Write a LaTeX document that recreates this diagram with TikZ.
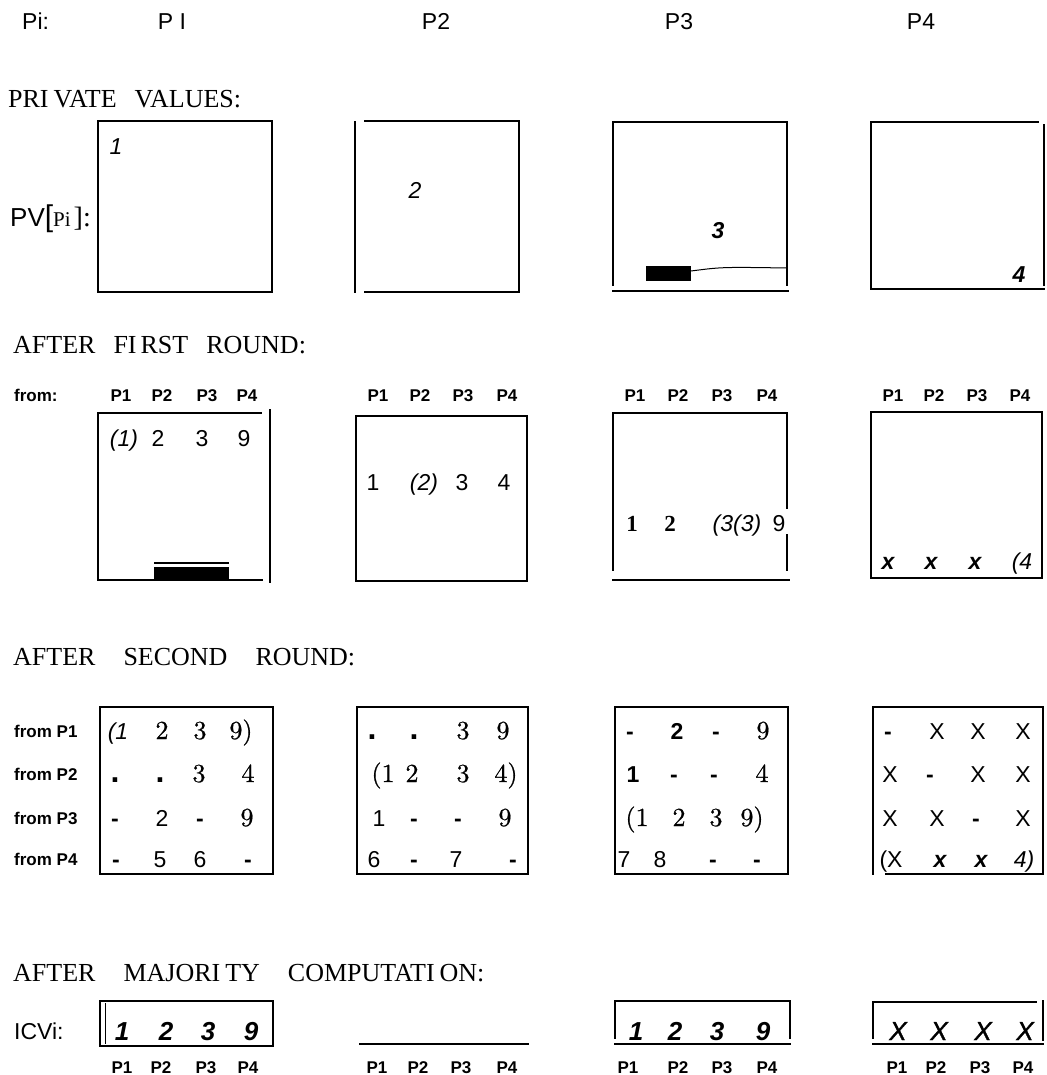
\documentclass[tikz,border=0pt]{standalone}
\usepackage{fontspec}
\usepackage{graphicx}
\newfontfamily\fsans{Liberation Sans}
\newfontfamily\fsansfb[FakeBold=1.2]{Liberation Sans}
\newfontfamily\fserif{Liberation Serif}
\newfontfamily\cmfb[FakeBold=0.7]{lmroman10-regular.otf}
\tikzset{
  boxline/.style={line width=2.5pt, line cap=rect},
  tnode/.style={inner sep=0pt, anchor=base},
  toplab/.style={tnode, font=\fsans\fontsize{23}{23}\selectfont},
  sectxt/.style={inner sep=0pt, anchor=base west, font=\fserif\fontsize{26}{26}\selectfont},
  plab/.style={tnode, font=\fsans\bfseries\fontsize{17}{17}\selectfont},
  snum/.style={tnode, font=\fsans\fontsize{23}{23}\selectfont},
  inum/.style={tnode, font=\fsans\itshape\fontsize{23}{23}\selectfont},
  bnum/.style={tnode, font=\fsans\bfseries\fontsize{23}{23}\selectfont},
  binum/.style={tnode, font=\fsans\bfseries\itshape\fontsize{26}{26}\selectfont},
  bxnum/.style={tnode, font=\fsans\bfseries\itshape\fontsize{23}{23}\selectfont},
  bsnum/.style={tnode, font=\fserif\bfseries\fontsize{23}{23}\selectfont},
  cmnum/.style={tnode, font=\cmfb\fontsize{26}{26}\selectfont},
  lowdot/.style={tnode, font=\fsans\bfseries\fontsize{32}{32}\selectfont},
  middash/.style={tnode, font=\fsans\bfseries\fontsize{23}{23}\selectfont},
  bigx/.style={tnode, font=\fsansfb\itshape\fontsize{26}{26}\selectfont},
}
\begin{document}
\begin{tikzpicture}[x=1pt,y=-1pt]
\useasboundingbox (0,0) rectangle (1046,1075);
% ---------- top row
\node[toplab, anchor=base west] (pi) at (22,30) {Pi:};
\node[toplab] (tp1) at (172,30) {P I};
\node[toplab] (tp2) at (436,30) {P2};
\node[toplab] (tp3) at (679,30) {P3};
\node[toplab] (tp4) at (921,30) {P4};
% ---------- private values
\node[sectxt] (pvsec) at (8,108) {\spaceskip=18pt\relax {\spaceskip=5pt\relax PRI VATE} VALUES:};
\node[tnode, anchor=base west] (pv) at (10,227) {{\fsans\fontsize{26}{26}\selectfont PV}{\fsans\fontsize{30}{30}\selectfont [}{\fserif\fontsize{21}{21}\selectfont Pi\hspace{3pt}}{\fserif\fontsize{28}{28}\selectfont ]:}};
\draw[boxline] (98,121) rectangle (272,292);
\node[inum] (pv1) at (116,155) {1};
\draw[boxline] (355,122) -- (355,292);
\draw[boxline] (365,121) -- (519,121) -- (519,292) -- (365,292);
\node[inum] (pv2) at (415,199) {2};
\draw[boxline] (613,285) -- (613,122) -- (787,122) -- (787,285);
\draw[boxline] (613,291) -- (788,291);
\fill (646,266) rectangle (691,281);
\draw[line width=1pt] (691,271) .. controls (722,267) .. (787,268);
\node[bxnum] (pv3) at (718,238) {3};
\draw[boxline] (1038,122) -- (871,122) -- (871,289) -- (1044,289);
\draw[boxline] (1044,125) -- (1044,285);
\node[bxnum] (pv4) at (1019,282) {4};
% ---------- after first round
\node[sectxt] (r1sec) at (13,353) {\spaceskip=18pt\relax AFTER {\spaceskip=4pt\relax FI RST} ROUND:};
\node[plab, anchor=base west] (from) at (14,401) {from:};
\foreach \x [count=\i] in {121,162,207,247} \node[plab] (ha\i) at (\x,401) {P\i};
\foreach \x [count=\i] in {378,420,463,507} \node[plab] (hb\i) at (\x,401) {P\i};
\foreach \x [count=\i] in {635,678,722,767} \node[plab] (hc\i) at (\x,401) {P\i};
\foreach \x [count=\i] in {893,934,977,1020} \node[plab] (hd\i) at (\x,401) {P\i};
% box 1
\draw[line width=1.5pt] (98,413) -- (262,413);
\draw[boxline] (98,413) -- (98,580) -- (262,580);
\draw[boxline] (270,410) -- (270,582);
\draw[line width=1.2pt] (154,563) -- (229,563);
\fill (154,567) rectangle (229,579);
\node[inum] (fa1) at (124,446) {(1)};
\node[snum] (fa2) at (158,446) {2};
\node[snum] (fa3) at (202,446) {3};
\node[snum] (fa4) at (244,446) {9};
% box 2
\draw[boxline] (356,416) rectangle (527,581);
\node[snum] (fb1) at (373,490) {1};
\node[inum] (fb2) at (424,490) {(2)};
\node[snum] (fb3) at (462,490) {3};
\node[snum] (fb4) at (504,490) {4};
% box 3
\draw[boxline] (613,570) -- (613,413) -- (787,413) -- (787,508);
\draw[boxline] (787,535) -- (787,570);
\draw[boxline] (613,580) -- (789,580);
\node[bsnum] (fc1) at (632,531) {1};
\node[bsnum] (fc2) at (670,531) {2};
\node[inum] (fc3) at (737,531) {(3(3)};
\node[snum] (fc4) at (779,531) {9};
% box 4
\draw[boxline] (871,412) rectangle (1042,578);
\node[bxnum] (fd1) at (888,569) {x};
\node[bxnum] (fd2) at (931,569) {x};
\node[bxnum] (fd3) at (975,569) {x};
\node[inum] (fd4) at (1022,569) {(4};
% ---------- after second round
\node[sectxt] (r2sec) at (13,665) {\spaceskip=28pt\relax AFTER SECOND ROUND:};
\node[plab, anchor=base west] (fp1) at (14,737) {from P1};
\node[plab, anchor=base west] (fp2) at (14,780) {from P2};
\node[plab, anchor=base west] (fp3) at (14,824) {from P3};
\node[plab, anchor=base west] (fp4) at (14,865) {from P4};
% box 1
\draw[boxline] (100,707) rectangle (273,874);
\node[inum] (sa11) at (118,739) {(1};
\node[cmnum] (sa12) at (162,739) {2};
\node[cmnum] (sa13) at (200,739) {3};
\node[cmnum] (sa14) at (241,739) {9)};
\node[lowdot] (sa21) at (115,782) {.};
\node[lowdot] (sa22) at (160,782) {.};
\node[cmnum] (sa23) at (199,782) {3};
\node[cmnum] (sa24) at (248,782) {4};
\node[middash] (sa31) at (115,826) {-};
\node[snum] (sa32) at (162,826) {2};
\node[middash] (sa33) at (200,826) {-};
\node[cmnum] (sa34) at (247,826) {9};
\node[middash] (sa41) at (116,867) {-};
\node[snum] (sa42) at (160,867) {5};
\node[snum] (sa43) at (200,867) {6};
\node[middash] (sa44) at (248,867) {-};
% box 2
\draw[boxline] (357,707) rectangle (528,874);
\node[lowdot] (sb11) at (372,739) {.};
\node[lowdot] (sb12) at (414,739) {.};
\node[cmnum] (sb13) at (463,739) {3};
\node[cmnum] (sb14) at (503,739) {9};
\node[cmnum] (sb21) at (383,782) {(1};
\node[cmnum] (sb22) at (412,782) {2};
\node[cmnum] (sb23) at (463,782) {3};
\node[cmnum] (sb24) at (506,782) {4)};
\node[snum] (sb31) at (379,826) {1};
\node[middash] (sb32) at (414,826) {-};
\node[middash] (sb33) at (458,826) {-};
\node[cmnum] (sb34) at (505,826) {9};
\node[snum] (sb41) at (374,867) {6};
\node[middash] (sb42) at (414,867) {-};
\node[snum] (sb43) at (456,867) {7};
\node[middash] (sb44) at (513,867) {-};
% box 3
\draw[boxline] (615,707) rectangle (788,874);
\node[middash] (sc11) at (630,739) {-};
\node[bnum] (sc12) at (677,739) {2};
\node[middash] (sc13) at (716,739) {-};
\node[cmnum] (sc14) at (763,739) {9};
\node[bnum] (sc21) at (633,782) {1};
\node[middash] (sc22) at (674,782) {-};
\node[middash] (sc23) at (714,782) {-};
\node[cmnum] (sc24) at (762,782) {4};
\node[cmnum] (sc31) at (637,826) {(1};
\node[cmnum] (sc32) at (679,826) {2};
\node[cmnum] (sc33) at (716,826) {3};
\node[cmnum] (sc34) at (752,826) {9)};
\node[snum] (sc41) at (624,867) {7};
\node[snum] (sc42) at (660,867) {8};
\node[middash] (sc43) at (713,867) {-};
\node[middash] (sc44) at (757,867) {-};
% box 4
\draw[boxline] (873,874) -- (873,707) -- (1043,707) -- (1043,874) -- (886,874);
\node[middash] (sd11) at (888,739) {-};
\node[snum] (sd12) at (937,739) {X};
\node[snum] (sd13) at (978,739) {X};
\node[snum] (sd14) at (1023,739) {X};
\node[snum] (sd21) at (890,782) {X};
\node[middash] (sd22) at (930,782) {-};
\node[snum] (sd23) at (978,782) {X};
\node[snum] (sd24) at (1023,782) {X};
\node[snum] (sd31) at (890,826) {X};
\node[snum] (sd32) at (937,826) {X};
\node[middash] (sd33) at (976,826) {-};
\node[snum] (sd34) at (1023,826) {X};
\node[snum] (sd41) at (891,867) {(X};
\node[bxnum] (sd42) at (940,867) {x};
\node[bxnum] (sd43) at (981,867) {x};
\node[inum] (sd44) at (1024,867) {4)};
% ---------- after majority computation
\node[sectxt] (r3sec) at (13,981) {\spaceskip=28pt\relax AFTER {\spaceskip=5pt\relax MAJORI TY} {\spaceskip=5pt\relax COMPUTATI ON:}};
\node[toplab, anchor=base west] (icvi) at (14,1039) {ICVi:};
% box 1
\draw[boxline] (100,1001) rectangle (273,1046);
\draw[line width=1pt] (105,1003) -- (105,1044);
\node[binum] (ia1) at (122,1040) {1};
\node[binum] (ia2) at (166,1040) {2};
\node[binum] (ia3) at (208,1040) {3};
\node[binum] (ia4) at (251,1040) {9};
% box 2
\draw[boxline] (360,1044) -- (528,1044);
% box 3
\draw[boxline] (615,1038) -- (615,1001) -- (790,1001) -- (790,1038);
\draw[boxline] (615,1044) -- (790,1044);
\node[binum] (ic1) at (636,1040) {1};
\node[binum] (ic2) at (675,1040) {2};
\node[binum] (ic3) at (717,1040) {3};
\node[binum] (ic4) at (763,1040) {9};
% box 4
\draw[boxline] (873,1038) -- (873,1002) -- (1036,1002);
\draw[boxline] (1043,1001) -- (1043,1040);
\draw[boxline] (873,1044) -- (1043,1044);
\node[bigx] (id1) at (898,1040) {X};
\node[bigx] (id2) at (939,1040) {X};
\node[bigx] (id3) at (983,1040) {X};
\node[bigx] (id4) at (1025,1040) {X};
% bottom labels
\foreach \x [count=\i] in {122,161,206,248} \node[plab] (ba\i) at (\x,1073) {P\i};
\foreach \x [count=\i] in {377,418,461,507} \node[plab] (bb\i) at (\x,1073) {P\i};
\foreach \x [count=\i] in {628,678,722,767} \node[plab] (bc\i) at (\x,1073) {P\i};
\foreach \x [count=\i] in {897,936,980,1023} \node[plab] (bd\i) at (\x,1073) {P\i};
\end{tikzpicture}
\end{document}
